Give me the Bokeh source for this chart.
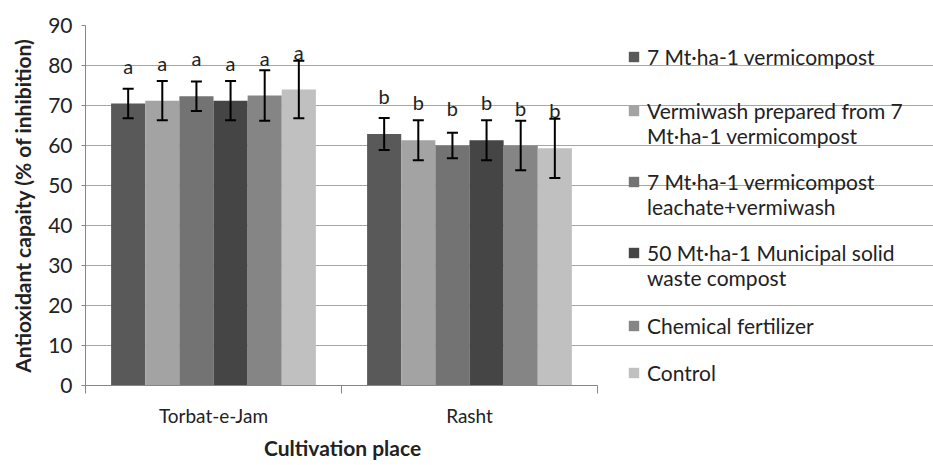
from bokeh.plotting import figure
from bokeh.models import (ColumnDataSource, Whisker, TeeHead, FixedTicker,
                          Range1d, Legend, LegendItem, Title)
from bokeh.core.properties import value
from bokeh.embed import file_html
from bokeh.resources import INLINE

# ---------------- data ----------------
places = ["Torbat-e-Jam", "Rasht"]
treatments = [
    ["7 Mt·ha-1 vermicompost"],
    ["Vermiwash prepared from 7", "Mt·ha-1 vermicompost"],
    ["7 Mt·ha-1 vermicompost", "leachate+vermiwash"],
    ["50 Mt·ha-1 Municipal solid", "waste compost"],
    ["Chemical fertilizer"],
    ["Control"],
]
torbat_mean = [70.5, 71.2, 72.3, 71.2, 72.5, 74.0]
torbat_err = [3.7, 4.9, 3.7, 4.9, 6.3, 7.2]
rasht_mean = [62.9, 61.3, 60.0, 61.3, 60.0, 59.3]
rasht_err = [4.0, 5.0, 3.2, 5.0, 6.2, 7.4]
torbat_letters = ["a", "a", "a", "a", "a", "a"]
rasht_letters = ["b", "b", "b", "b", "b", "b"]
y_ticks = [0, 10, 20, 30, 40, 50, 60, 70, 80, 90]
x_title = "Cultivation place"
y_title = "Antioxidant capaity (% of inhibition)"

# ---------------- style ----------------
colors = ["#595959", "#a3a3a3", "#737373", "#454545", "#858585", "#c0c0c0"]
FONT = "Lato"
TXT = "#222222"
AX = "#868686"
W, H = 933, 465
LEFT, TOP, BOTTOM = 85, 25, 80
PLOT_W = 512                     # pixel width of the bar area
FRAME_W = W - LEFT               # frame extends under the legend area
legend_first_line = [56, 110, 181, 252, 325, 372]   # screen y of each entry's first line
ITEM_H = 25
LEG_X = 542
X_TITLE_W = 155                  # approx. rendered width of the x title

n = len(treatments)
group_w = 0.8
bar_w = group_w / n
nx = len(places)

p = figure(width=W, height=H, x_range=Range1d(0, nx * FRAME_W / PLOT_W), y_range=Range1d(0, 90),
           output_backend="svg", toolbar_location=None,
           min_border_left=LEFT, min_border_right=0, min_border_top=TOP, min_border_bottom=BOTTOM)
p.outline_line_color = None
p.xgrid.visible = False
p.ygrid.grid_line_color = "#a6a6a6"
p.ygrid.ticker = FixedTicker(ticks=y_ticks)
p.ygrid.bounds = (0, nx)

bar_renderers = []
for j in range(n):
    xs = [i + (1 - group_w) / 2 + (j + 0.5) * bar_w for i in range(nx)]
    means = [torbat_mean[j], rasht_mean[j]]
    errs = [torbat_err[j], rasht_err[j]]
    src = ColumnDataSource(dict(
        x=xs, top=means,
        upper=[m + e for m, e in zip(means, errs)],
        lower=[m - e for m, e in zip(means, errs)],
        letter=[torbat_letters[j], rasht_letters[j]],
    ))
    r = p.vbar(x="x", top="top", width=bar_w, source=src, fill_color=colors[j], line_color=None)
    bar_renderers.append(r)
    p.add_layout(Whisker(source=src, base="x", upper="upper", lower="lower", level="annotation",
                         line_color="black", line_width=2,
                         upper_head=TeeHead(size=11, line_color="black", line_width=2),
                         lower_head=TeeHead(size=11, line_color="black", line_width=2)))
    p.text(x="x", y="top", text="letter", source=src, text_align="center",
           text_baseline="bottom", y_offset=-26, text_font=value(FONT),
           text_font_size="20px", text_color=TXT)

# invisible renderer used for legend continuation lines
blank = p.vbar(x=[], top=[], width=bar_w, fill_alpha=0, line_alpha=0)

# y axis
ya = p.yaxis[0]
ya.ticker = FixedTicker(ticks=y_ticks)
ya.minor_tick_line_color = None
ya.major_tick_out = 4
ya.major_tick_in = 0
ya.axis_line_color = AX
ya.major_tick_line_color = AX
ya.major_label_standoff = 9
ya.major_label_text_font = FONT
ya.major_label_text_font_size = "21px"
ya.major_label_text_color = TXT
ya.axis_label = y_title
ya.axis_label_text_font = FONT
ya.axis_label_text_font_size = "21px"
ya.axis_label_text_font_style = "bold"
ya.axis_label_text_color = TXT
ya.axis_label_standoff = 10

# x axis: labels at category centres, minor ticks at category boundaries
xa = p.xaxis[0]
xa.bounds = (0, nx)
xa.ticker = FixedTicker(ticks=[i + 0.5 for i in range(nx)], minor_ticks=list(range(nx + 1)))
xa.major_label_overrides = {i + 0.5: pl for i, pl in enumerate(places)}
xa.axis_line_color = AX
xa.major_tick_line_color = None
xa.major_tick_out = 0
xa.major_tick_in = 0
xa.minor_tick_line_color = AX
xa.minor_tick_out = 8
xa.minor_tick_in = 0
xa.major_label_standoff = 10
xa.major_label_text_font = FONT
xa.major_label_text_font_size = "19px"
xa.major_label_text_color = TXT

# x-axis title centred under the bar area (not the whole frame)
p.add_layout(Title(text=x_title, align="left", offset=PLOT_W / 2 - X_TITLE_W / 2,
                   text_font=FONT, text_font_size="21px", text_font_style="bold",
                   text_color=TXT, standoff=6), "below")

frame_h = H - TOP - BOTTOM
for lines, r, y1 in zip(treatments, bar_renderers, legend_first_line):
    items = [LegendItem(label=lines[0], renderers=[r])]
    items += [LegendItem(label=t, renderers=[blank]) for t in lines[1:]]
    bottom = y1 - ITEM_H / 2 + len(lines) * ITEM_H
    leg = Legend(items=items, location=(LEG_X, TOP + frame_h - bottom),
                 border_line_color=None, background_fill_alpha=0,
                 label_text_font=FONT, label_text_font_size="21px", label_text_color=TXT,
                 glyph_width=13, glyph_height=13, label_standoff=7, spacing=0,
                 label_height=ITEM_H, padding=0, margin=0)
    p.add_layout(leg)

open("out.html", "w").write(file_html(p, INLINE))
